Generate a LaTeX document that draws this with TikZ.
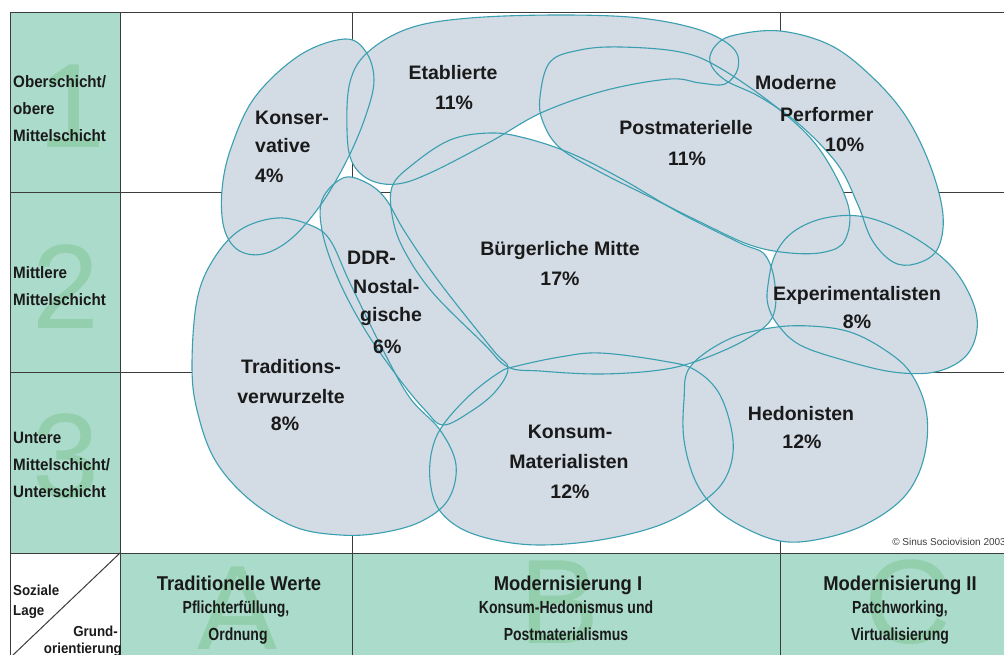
\documentclass[tikz,border=0pt]{standalone}
\usepackage{fontspec}
\setmainfont{Liberation Sans}
\newfontfamily\condA[FakeStretch=0.92]{Liberation Sans}
\newfontfamily\condB[FakeStretch=0.8]{Liberation Sans}
\definecolor{cellgreen}{HTML}{AADBCB}
\definecolor{digitgreen}{HTML}{93CFAC}
\definecolor{gridc}{HTML}{3C3C3C}
\definecolor{bfill}{HTML}{D3DBE4}
\definecolor{bline}{HTML}{3A9FB0}
\definecolor{txtc}{HTML}{1A1A1A}
\def\pKonserv{(345,39) (366,52) (374,80) (366,115) (348,158) (322,203) (292,238) (263,254) (238,250) (224,228) (222,190) (231,148) (255,97) (300,55)}
\def\pEtab{(347,130) (350,82) (368,52) (410,28) (470,18) (560,15) (640,18) (700,30) (733,48) (738,68) (725,84) (700,83) (670,79) (607,90) (543,112) (490,142) (430,173) (397,184) (370,180) (352,162)}
\def\pModPerf{(710,62) (716,45) (735,35) (780,31) (830,45) (870,75) (905,115) (930,165) (943,215) (937,250) (915,264) (893,262) (872,240) (858,205) (838,165) (800,125) (760,97) (725,80)}
\def\pPostmat{(540,97) (550,62) (580,50) (620,47) (680,52) (720,68) (780,110) (820,150) (848,205) (845,240) (825,252) (790,253) (750,245) (700,222) (650,197) (600,172) (560,148) (543,122)}
\def\pBuerg{(392,187) (412,165) (450,140) (490,133) (525,138) (570,153) (620,178) (680,213) (740,243) (765,255) (775,285) (772,318) (745,340) (700,360) (660,370) (600,374) (540,371) (508,367) (483,343) (433,293) (405,252) (393,220)}
\def\pDDR{(343,178) (365,182) (385,198) (405,232) (440,283) (493,350) (508,368) (495,392) (470,412) (443,425) (425,410) (400,380) (367,333) (340,283) (323,235) (322,200)}
\def\pTrad{(277,218) (310,225) (330,240) (350,283) (383,350) (410,398) (440,430) (456,465) (448,500) (420,522) (380,533) (340,535) (295,527) (250,500) (215,460) (197,410) (192,365) (197,300) (213,260) (240,230)}
\def\pKM{(443,425) (470,395) (500,372) (517,366) (560,357) (600,353) (663,361) (695,370) (720,395) (733,440) (727,475) (705,500) (660,525) (600,540) (540,545) (495,540) (460,528) (438,508) (430,480) (432,450)}
\def\pHed{(690,367) (727,340) (770,328) (810,326) (850,332) (885,350) (910,372) (925,405) (927,440) (918,475) (898,503) (860,527) (815,540) (780,541) (745,528) (715,508) (695,480) (684,440) (684,400)}
\def\pExp{(768,285) (775,255) (793,232) (825,218) (865,217) (910,235) (950,265) (972,300) (977,330) (965,357) (935,372) (893,372) (843,360) (800,345) (778,325) (768,305)}
\newcommand\blobF[1]{\fill[bfill] plot[smooth cycle,tension=0.6] coordinates {#1};}
\newcommand\blobL[1]{\draw[bline,line width=1.1pt] plot[smooth cycle,tension=0.6] coordinates {#1};}
\newcommand\blobboth[1]{}
\tikzset{
  lbl/.style={font=\fontsize{19.5}{23}\selectfont\bfseries, text=txtc, inner sep=0pt, anchor=base},
  lblw/.style={lbl, anchor=base west},
  side/.style={font=\condA\fontsize{16.5}{20}\selectfont\bfseries, text=txtc, inner sep=0pt, anchor=base west},
  ttl/.style={font=\condA\fontsize{20}{24}\selectfont\bfseries, text=txtc, inner sep=0pt, anchor=base},
  sub/.style={font=\condB\fontsize{17.5}{21}\selectfont\bfseries, text=txtc, inner sep=0pt, anchor=base},
  corner/.style={font=\condA\fontsize{14.5}{17}\selectfont\bfseries, text=txtc, inner sep=0pt},
  big/.style={font=\fontsize{120}{120}\selectfont, text=digitgreen, inner sep=0pt, anchor=base},
  gridline/.style={draw=gridc, line width=1pt}
}
\begin{document}
\begin{tikzpicture}[x=1pt,y=-1pt]
\useasboundingbox (0,0) rectangle (1004,655);
\fill[white] (0,0) rectangle (1004,655);
% green cells
\fill[cellgreen] (10,13) rectangle (120,553);
\fill[cellgreen] (120,553) rectangle (1004,655);
% faint numerals
\node[big] (d1) at (72,148) {1};
\node[big] (d2) at (66,328) {2};
\node[big] (d3) at (66,497) {3};
\node[big] (dA) at (238,649) {A};
\node[big] (dB) at (560,643) {B};
\node[big] (dC) at (908,643) {C};
% grid
\draw[gridline] (10,13) -- (1004,13);
\draw[gridline] (10,193) -- (1004,193);
\draw[gridline] (10,372) -- (1004,372);
\draw[gridline] (10,553) -- (1004,553);
\draw[gridline] (10,13) -- (10,655);
\draw[gridline] (120,13) -- (120,655);
\draw[gridline] (352,13) -- (352,655);
\draw[gridline] (780,13) -- (780,655);
\draw[gridline] (13,655) -- (120,553);
% blob fills
\expandafter\blobF\expandafter{\pTrad}
\expandafter\blobF\expandafter{\pKonserv}
\expandafter\blobF\expandafter{\pEtab}
\expandafter\blobF\expandafter{\pPostmat}
\expandafter\blobF\expandafter{\pModPerf}
\expandafter\blobF\expandafter{\pBuerg}
\expandafter\blobF\expandafter{\pDDR}
\expandafter\blobF\expandafter{\pKM}
\expandafter\blobF\expandafter{\pHed}
\expandafter\blobF\expandafter{\pExp}
% blob outlines
\expandafter\blobL\expandafter{\pTrad}
\expandafter\blobL\expandafter{\pKonserv}
\expandafter\blobL\expandafter{\pEtab}
\expandafter\blobL\expandafter{\pPostmat}
\expandafter\blobL\expandafter{\pModPerf}
\expandafter\blobL\expandafter{\pBuerg}
\expandafter\blobL\expandafter{\pDDR}
\expandafter\blobL\expandafter{\pKM}
\expandafter\blobL\expandafter{\pHed}
\expandafter\blobL\expandafter{\pExp}
% blob labels
\node[lblw] (kons1) at (255,125) {Konser-};
\node[lblw] (kons2) at (255,153) {vative};
\node[lblw] (kons3) at (255,183) {4\%};
\node[lbl] (etab1) at (453,80) {Etablierte};
\node[lbl] (etab2) at (454,110) {11\%};
\node[lbl] (post1) at (686,135) {Postmaterielle};
\node[lbl] (post2) at (687,166) {11\%};
\node[lblw] (mp1) at (755,90) {Moderne};
\node[lblw] (mp2) at (780,122) {Performer};
\node[lblw] (mp3) at (825,152) {10\%};
\node[lbl] (bm1) at (560,255) {Bürgerliche Mitte};
\node[lbl] (bm2) at (560,285) {17\%};
\node[lblw] (ddr1) at (347,265) {DDR-};
\node[lblw] (ddr2) at (353,293) {Nostal-};
\node[lblw] (ddr3) at (360,321) {gische};
\node[lblw] (ddr4) at (373,353) {6\%};
\node[lbl] (tr1) at (291,373) {Traditions-};
\node[lbl] (tr2) at (291,403) {verwurzelte};
\node[lbl] (tr3) at (285,430) {8\%};
\node[lbl] (km1) at (570,438) {Konsum-};
\node[lbl] (km2) at (569,468) {Materialisten};
\node[lbl] (km3) at (570,498) {12\%};
\node[lbl] (he1) at (801,420) {Hedonisten};
\node[lbl] (he2) at (802,448) {12\%};
\node[lbl] (ex1) at (857,300) {Experimentalisten};
\node[lbl] (ex2) at (857,328) {8\%};
% left column labels
\node[side] (r1a) at (13,88) {Oberschicht/};
\node[side] (r1b) at (13,115) {obere};
\node[side] (r1c) at (13,142) {Mittelschicht};
\node[side] (r2a) at (13,278) {Mittlere};
\node[side] (r2b) at (13,305) {Mittelschicht};
\node[side] (r3a) at (13,443) {Untere};
\node[side] (r3b) at (13,470) {Mittelschicht/};
\node[side] (r3c) at (13,497) {Unterschicht};
% bottom row labels
\node[ttl] (c1a) at (239,590) {Traditionelle Werte};
\node[sub] (c1b) at (236,613) {Pflichterfüllung,};
\node[sub] (c1c) at (238,640) {Ordnung};
\node[ttl] (c2a) at (568,590) {Modernisierung I};
\node[sub] (c2b) at (566,613) {Konsum-Hedonismus und};
\node[sub] (c2c) at (566,640) {Postmaterialismus};
\node[ttl] (c3a) at (900,590) {Modernisierung II};
\node[sub] (c3b) at (900,613) {Patchworking,};
\node[sub] (c3c) at (900,640) {Virtualisierung};
% corner cell
\node[corner, anchor=base west] (sz1) at (13,595) {Soziale};
\node[corner, anchor=base west] (sz2) at (13,615) {Lage};
\node[corner, anchor=base east] (go1) at (118,636) {Grund-};
\node[corner, anchor=base east] (go2) at (122,653) {orientierung};
% copyright
\node[font=\fontsize{10}{12}\selectfont, text=gridc, inner sep=0pt, anchor=base east] (copy) at (1006,545) {© Sinus Sociovision 2003};
\end{tikzpicture}
\end{document}
